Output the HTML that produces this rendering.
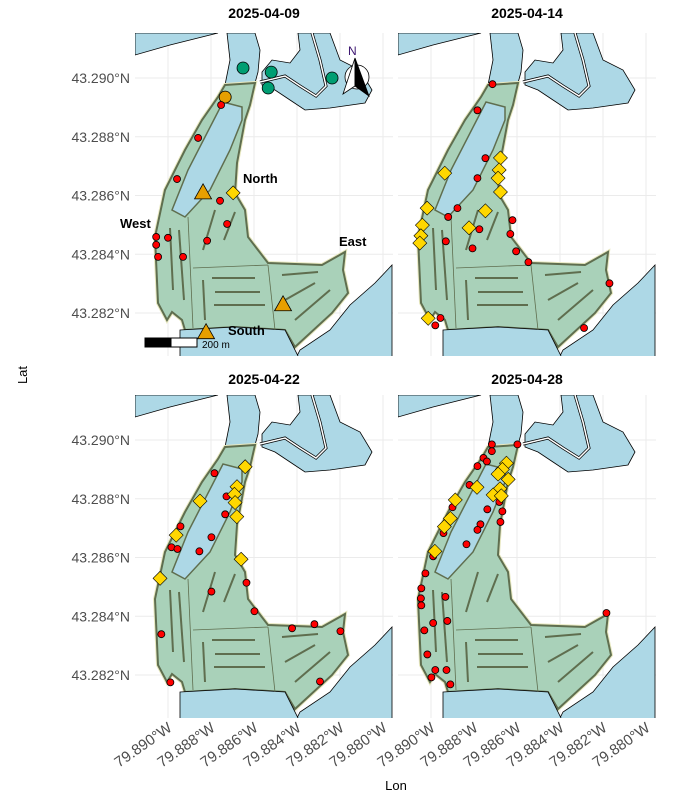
<!DOCTYPE html>
<html><head><meta charset="utf-8"><style>
body{margin:0;background:#fff;overflow:hidden;}
svg{display:block;font-family:"Liberation Sans",sans-serif;}
</style></head><body>
<svg id="chart" width="700" height="800" viewBox="0 0 700 800">
<defs>
<g id="basemap">
  <path d="M135,33 L218,33 L170,45 L135,55 Z" fill="#add8e6" stroke="#000" stroke-width="0.8"/>
  <path d="M227,33 L255,33 L260,50 L258,72 L255,83 L225,85 L230,60 Z" fill="#add8e6" stroke="#000" stroke-width="0.8"/>
  <path d="M262,72 L272,60 L290,63 L300,50 L298,33 L330,33 L340,60 L360,70 L372,90 L365,103 L330,108 L305,110 L290,100 L275,90 L262,85 Z" fill="#add8e6" stroke="#000" stroke-width="0.8"/>
  <path d="M260,82 L285,76 L300,86 L316,96 L326,86 L320,60 L312,33" fill="none" stroke="#000" stroke-width="3"/>
  <path d="M260,82 L285,76 L300,86 L316,96 L326,86 L320,60 L312,33" fill="none" stroke="#fff" stroke-width="1.5"/>
  <path d="M392,265 L375,283 L350,305 L330,330 L300,350 L295,360 L392,360 Z" fill="#add8e6" stroke="#000" stroke-width="0.8"/>
  <path d="M225,85 L255,83 L250,105 L245,120 L237,163 L235,193 L245,210 L248,237 L268,263 L322,265 L345,252 L343,270 L348,293 L332,313 L295,347 L285,330 L235,327 L185,330 L182,320 L172,312 L167,320 L158,303 L155,237 L165,190 L185,150 L202,120 L218,97 Z" fill="#a9d1b9" stroke="#e8e8c0" stroke-width="4"/>
  <path d="M225,85 L255,83 L250,105 L245,120 L237,163 L235,193 L245,210 L248,237 L268,263 L322,265 L345,252 L343,270 L348,293 L332,313 L295,347 L285,330 L235,327 L185,330 L182,320 L172,312 L167,320 L158,303 L155,237 L165,190 L185,150 L202,120 L218,97 Z" fill="#a9d1b9" stroke="#5f6e4f" stroke-width="2"/>
  <path d="M180,330 L235,327 L285,330 L300,360 L180,360 Z" fill="#add8e6" stroke="#000" stroke-width="0.8"/>
  <path d="M242,107 L223,102 L188,170 L172,210 L185,217 L210,190 L230,150 L242,120 Z" fill="#add8e6" stroke="#5f6e4f" stroke-width="1.5"/>
  <g stroke="#5f6e4f" stroke-width="0.8" fill="none">
    <path d="M188,217 L193,328"/><path d="M193,268 L268,265"/><path d="M268,265 L275,330"/>
  </g>
  <g stroke="#5f6e4f" stroke-width="2" fill="none">
    <path d="M170,228 L173,290"/><path d="M179,230 L184,300"/><path d="M203,250 L215,210"/><path d="M224,240 L235,212"/>
    <path d="M212,278 L255,278"/><path d="M215,292 L260,292"/><path d="M214,305 L265,305"/><path d="M203,280 L205,320"/>
    <path d="M282,275 L318,272"/><path d="M285,300 L315,283"/><path d="M295,320 L330,290"/>
  </g>
</g>
<clipPath id="clip"><rect x="135" y="33" width="258" height="323"/></clipPath>
</defs>
<g id="panels"></g>
<text x="396" y="790" text-anchor="middle" font-size="13" fill="#000">Lon</text>
<text x="27" y="375" text-anchor="middle" font-size="13" fill="#000" transform="rotate(-90 27 375)">Lat</text>
</svg>
<script>
const dates = ["2025-04-09","2025-04-14","2025-04-22","2025-04-28"];
const lonTicks = [79.890,79.888,79.886,79.884,79.882,79.880];
const latTicks = [43.290,43.288,43.286,43.284,43.282];
// red sampling points per date: [lon, lat]
const red0 = [[79.88753,43.28908],[79.88860,43.28796],[79.88958,43.28656],[79.88758,43.28582],[79.88725,43.28503],[79.88818,43.28446],[79.89055,43.28459],[79.89055,43.28432],[79.89046,43.28391],[79.89000,43.28456],[79.88930,43.28391]];
const red1 = [[79.88714,43.28979],[79.88784,43.28890],[79.88747,43.28727],[79.88784,43.28659],[79.88877,43.28557],[79.88920,43.28527],[79.88775,43.28485],[79.88807,43.28420],[79.88931,43.28444],[79.88621,43.28516],[79.88631,43.28469],[79.88604,43.28410],[79.88547,43.28373],[79.88170,43.28301],[79.88288,43.28149],[79.88956,43.28183],[79.88980,43.28158]];
const red2 = [[79.88784,43.28887],[79.88728,43.28808],[79.88734,43.28747],[79.88942,43.28706],[79.88798,43.28669],[79.88984,43.28635],[79.88956,43.28629],[79.88854,43.28621],[79.88635,43.28514],[79.88798,43.28484],[79.88598,43.28417],[79.88423,43.28359],[79.88319,43.28373],[79.88198,43.28349],[79.88293,43.28178],[79.89031,43.28339],[79.88989,43.28175]];
const red3 = [[79.88717,43.28985],[79.88598,43.28985],[79.88717,43.28962],[79.88756,43.28939],[79.88740,43.28927],[79.88784,43.28911],[79.88821,43.28847],[79.88900,43.28771],[79.88942,43.28683],[79.88990,43.28604],[79.88738,43.28764],[79.88682,43.28789],[79.88668,43.28757],[79.88677,43.28721],[79.88770,43.28713],[79.88784,43.28694],[79.88835,43.28645],[79.89026,43.28546],[79.89045,43.28495],[79.89047,43.28461],[79.89045,43.28437],[79.88933,43.28466],[79.88990,43.28377],[79.88924,43.28384],[79.89031,43.28352],[79.89017,43.28270],[79.88980,43.28217],[79.88928,43.28217],[79.88998,43.28192],[79.88910,43.28168],[79.88184,43.28411]];
// yellow diamonds per date
const yel0 = [[79.88697,43.28609]];
const yel1 = [[79.88677,43.28728],[79.88683,43.28687],[79.88688,43.28659],[79.88677,43.28612],[79.88936,43.28676],[79.88747,43.28548],[79.88823,43.28490],[79.89018,43.28557],[79.89040,43.28499],[79.89047,43.28463],[79.89052,43.28438],[79.89013,43.28182]];
const yel2 = [[79.88641,43.28909],[79.88679,43.28841],[79.88691,43.28815],[79.88688,43.28787],[79.88680,43.28739],[79.88851,43.28792],[79.88962,43.28676],[79.88660,43.28594],[79.89037,43.28529]];
const yel3 = [[79.88649,43.28921],[79.88668,43.28900],[79.88688,43.28884],[79.88641,43.28866],[79.88679,43.28834],[79.88711,43.28813],[79.88673,43.28810],[79.88786,43.28839],[79.88887,43.28796],[79.88910,43.28733],[79.88938,43.28705],[79.88982,43.28621]];
// site markers (first date only)
const triSites = [[79.88837,43.28609],[79.88465,43.28228],[79.88823,43.28133]];
const orangeSite = [[79.88734,43.28935]];
const greenSites = [[79.88651,43.29034],[79.88520,43.29020],[79.88534,43.28966],[79.88237,43.29000]];
const reds=[red0,red1,red2,red3], yels=[yel0,yel1,yel2,yel3];

const NS="http://www.w3.org/2000/svg";
function mk(tag,attrs,parent){const e=document.createElementNS(NS,tag);for(const k in attrs)e.setAttribute(k,attrs[k]);parent.appendChild(e);return e;}
function xs(lon){return 168+(79.890-lon)/0.002*43;}
function ys(lat){return 78+(43.290-lat)/0.002*58.75;}
const offs=[[0,0],[263,0],[0,362],[263,362]];
const root=document.getElementById('panels');
dates.forEach((d,i)=>{
  const [ox,oy]=offs[i];
  const g=mk('g',{transform:`translate(${ox},${oy})`},root);
  
  
  const c=mk('g',{'clip-path':'url(#clip)'},g);
  lonTicks.forEach(t=>{const l=mk('line',{x1:xs(t),x2:xs(t),y1:33,y2:356,stroke:'#ebebeb','stroke-width':1},c);
    });
  latTicks.forEach(t=>{const l=mk('line',{x1:135,x2:393,y1:ys(t),y2:ys(t),stroke:'#ebebeb','stroke-width':1},c);
    });
  const u=mk('use',{href:'#basemap'},c);
  
  
  const tt=mk('text',{x:264,y:oy?22:18,'text-anchor':'middle','font-size':14,'font-weight':'bold'},g);
  tt.textContent=d;
  
  
  if(i===0){
    greenSites.forEach(p=>{const e=mk('circle',{cx:xs(p[0]),cy:ys(p[1]),r:6,fill:'#009e73',stroke:'#000','stroke-width':0.8},c);
      });
    orangeSite.forEach(p=>{const e=mk('circle',{cx:xs(p[0]),cy:ys(p[1]),r:6,fill:'#e69f00',stroke:'#000','stroke-width':0.8},c);
      });
  }
  reds[i].forEach(p=>{const e=mk('circle',{cx:xs(p[0]),cy:ys(p[1]),r:3.5,fill:'#ff0000',stroke:'#000','stroke-width':0.8},c);
    });
  yels[i].forEach(p=>{const x=xs(p[0]),y=ys(p[1]);const e=mk('polygon',{points:`${x},${y-7} ${x+7},${y} ${x},${y+7} ${x-7},${y}`,fill:'#ffd700',stroke:'#000','stroke-width':0.6},c);
    });
  if(i===0){
    triSites.forEach(p=>{const x=xs(p[0]),y=ys(p[1]);const e=mk('polygon',{points:`${x},${y-9} ${x+8.5},${y+6} ${x-8.5},${y+6}`,fill:'#e69f00',stroke:'#000','stroke-width':0.8},c);
      });
    [["North",243,183],["West",120,228],["East",339,246],["South",228,335]].forEach(a=>{
      const t=mk('text',{x:a[1],y:a[2],'font-size':13,'font-weight':'bold'},g);t.textContent=a[0];
      });
    const sb=mk('g',{},g);
    
    
    mk('rect',{x:145,y:338,width:26,height:9,fill:'#000',stroke:'#000'},sb);
    mk('rect',{x:171,y:338,width:26,height:9,fill:'#fff',stroke:'#000'},sb);
    const st=mk('text',{x:202,y:348,'font-size':10},sb);st.textContent='200 m';
    const na=mk('g',{},g);
    
    
    mk('circle',{cx:357,cy:77,r:12,fill:'#fff',stroke:'#000','stroke-width':0.8},na);
    mk('polygon',{points:'355,58 343,94 355,86',fill:'#fff',stroke:'#000','stroke-width':0.8},na);
    mk('polygon',{points:'355,58 369,96 355,86',fill:'#000',stroke:'#000','stroke-width':0.8},na);
    const nt=mk('text',{x:348,y:55,'font-size':12,fill:'#3b1470'},na);nt.textContent='N';
  }
  if(ox===0){
    latTicks.forEach(t=>{const e=mk('text',{x:130,y:ys(t)+5,'text-anchor':'end','font-size':14,fill:'#4d4d4d'},g);
      e.textContent=t.toFixed(3)+'°N';
      });
  }
  if(oy>0){
    lonTicks.forEach(t=>{const x=xs(t)+5;const y=368;const e=mk('text',{x:x,y:y,'text-anchor':'end','font-size':15,fill:'#4d4d4d',transform:`rotate(-35 ${x} ${y})`},g);
      e.textContent=t.toFixed(3)+'°W';
      });
  }
});
</script>
</body></html>
